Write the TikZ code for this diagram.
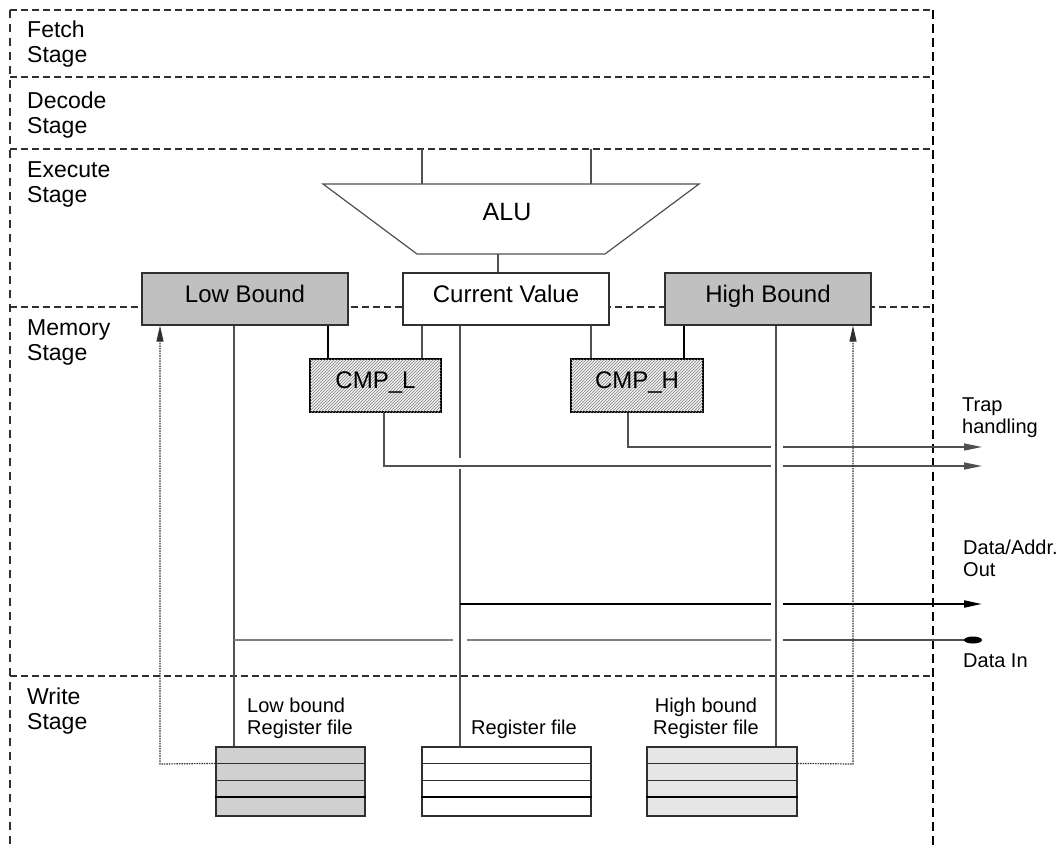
\documentclass[tikz,border=0pt]{standalone}
\usepackage{fontspec}
\setmainfont{Liberation Sans}
\usetikzlibrary{arrows.meta,patterns,calc}
\definecolor{boundgray}{HTML}{C0C0C0}
\definecolor{regdark}{HTML}{D0D0D0}
\definecolor{reglight}{HTML}{E6E6E6}
\definecolor{cmpfill}{HTML}{F2F2F2}
\definecolor{linegray}{HTML}{505050}
\definecolor{edgegray}{HTML}{303030}
\begin{document}
\begin{tikzpicture}[x=1pt,y=-1pt,
  stagedash/.style={draw=edgegray,line width=1.1pt,dash pattern=on 7pt off 4pt},
  borderdash/.style={draw=black,line width=2.2pt,dash pattern=on 9pt off 5pt},
  leftdash/.style={draw=edgegray,line width=1.1pt,dash pattern=on 8pt off 6pt},
  stagelbl/.style={anchor=north west,inner sep=0pt,align=left,font=\fontsize{23}{25}\selectfont},
  boxlbl/.style={font=\fontsize{24}{27}\selectfont,text height=16pt,text depth=10pt},
  bound/.style={boxlbl,draw=edgegray,line width=1.2pt,fill=boundgray,minimum width=206pt,minimum height=52pt,inner sep=0pt},
  valbox/.style={boxlbl,draw=edgegray,line width=1.2pt,fill=white,minimum width=206pt,minimum height=52pt,inner sep=0pt},
  cmpbox/.style={boxlbl,draw=black,line width=1.5pt,fill=cmpfill,postaction={pattern=north east lines,pattern color=gray},minimum height=53pt,inner sep=0pt},
  regbox/.style={draw=edgegray,line width=1.2pt,minimum height=69pt,inner sep=0pt},
  smalllbl/.style={inner sep=0pt,font=\fontsize{20}{22}\selectfont},
  conn/.style={draw=linegray,line width=1.2pt},
  blackconn/.style={draw=black,line width=1.5pt},
  dotarrow/.style={draw=edgegray,line width=1.2pt,dash pattern=on 1.5pt off 1pt,-{Triangle[length=16pt,width=7pt]}},
  outarrow/.style={-{Triangle[length=18pt,width=7pt]}}
]
\useasboundingbox (0,0) rectangle (1063,847);

% stage separators
\draw[stagedash] (10,10) -- (933,10);
\draw[stagedash] (10,77) -- (933,77);
\draw[stagedash] (10,149) -- (933,149);
\draw[stagedash] (10,307) -- (933,307);
\draw[stagedash] (10,676) -- (933,676);
\draw[leftdash] (10,10) -- (10,847);
\draw[borderdash] (933,10) -- (933,847);

% stage labels
\node[stagelbl] (fetch) at (27,21) {Fetch\\Stage};
\node[stagelbl] (decode) at (27,92) {Decode\\Stage};
\node[stagelbl] (execute) at (27,161) {Execute\\Stage};
\node[stagelbl] (memory) at (27,319) {Memory\\Stage};
\node[stagelbl] (write) at (27,688) {Write\\Stage};

% ALU
\draw[draw=linegray,line width=1.2pt,fill=white] (323,184) -- (699,184) -- (605,254) -- (417,254) -- cycle;
\node[font=\fontsize{25}{27}\selectfont,inner sep=0pt] (alu) at (507,212) {ALU};
\coordinate (aluin1) at (422,184);
\coordinate (aluin2) at (591,184);
\coordinate (aluout) at (498,254);
\coordinate (src1) at (422,149);
\coordinate (src2) at (591,149);
\draw[conn] (src1) -- (aluin1);
\draw[conn] (src2) -- (aluin2);

% registers of the execute stage
\node[bound] (lowb) at (245,299) {Low Bound};
\node[valbox] (curv) at (506,299) {Current Value};
\node[bound] (highb) at (768,299) {High Bound};
\draw[conn] (aluout) -- (aluout |- curv.north);

% comparators
\node[cmpbox,minimum width=131pt] (cmpl) at (375.5,385.5) {CMP\_L};
\node[cmpbox,minimum width=132pt] (cmph) at (637,385.5) {CMP\_H};

\draw[blackconn] ($(lowb.south)+(83,0)$) -- ($(cmpl.north)+(-47.5,0)$);
\draw[conn] ($(curv.south)+(-84,0)$) -- ($(cmpl.north)+(46.5,0)$);
\draw[conn] ($(curv.south)+(85,0)$) -- ($(cmph.north)+(-46,0)$);
\draw[blackconn] ($(highb.south)+(-84,0)$) -- ($(cmph.north)+(47,0)$);

% register files
\node[regbox,fill=regdark,minimum width=149pt] (regl) at (290.5,781.5) {};
\node[regbox,fill=white,minimum width=169pt] (regm) at (506.5,781.5) {};
\node[regbox,fill=reglight,minimum width=150pt] (regh) at (722,781.5) {};
\foreach \r in {regl,regm,regh}{
  \draw[edgegray,line width=1.2pt] ($(\r.north west)+(0,17)$) -- ($(\r.north east)+(0,17)$);
  \draw[edgegray,line width=1.2pt] ($(\r.north west)+(0,34)$) -- ($(\r.north east)+(0,34)$);
  \draw[black,line width=2pt] ($(\r.north west)+(0,51)$) -- ($(\r.north east)+(0,51)$);
}
\node[smalllbl,anchor=south west,align=left] (regllbl) at (247,739) {Low bound\\Register file};
\node[smalllbl,anchor=south] (regmlbl) at (524,739) {Register file};
\node[smalllbl,anchor=south,align=center] (reghlbl) at (706,739) {High bound\\Register file};

% vertical buses
\coordinate (cvgapA) at (460,458);
\coordinate (cvgapB) at (460,469);
\draw[conn] ($(lowb.south)+(-11,0)$) -- ($(regl.north)+(-56.5,0)$);
\draw[conn] ($(curv.south)+(-46,0)$) -- (cvgapA);
\draw[conn] (cvgapB) -- ($(regm.north)+(-46.5,0)$);
\draw[conn] ($(highb.south)+(8,0)$) -- ($(regh.north)+(54,0)$);

% trap handling outputs
\coordinate (hgapA) at (771,447);
\coordinate (hgapB) at (783,447);
\coordinate (trapH) at (982,447);
\coordinate (lgapA) at (771,466);
\coordinate (lgapB) at (783,466);
\coordinate (trapL) at (982,466);
\draw[conn] ($(cmph.south)+(-9,0)$) |- (hgapA);
\draw[conn,outarrow] (hgapB) -- (trapH);
\draw[conn] ($(cmpl.south)+(8.5,0)$) |- (lgapA);
\draw[conn,outarrow] (lgapB) -- (trapL);
\node[smalllbl,anchor=south west,align=left] (traplbl) at (962,438) {Trap\\handling};

% data / address out
\coordinate (daStart) at (460,604);
\coordinate (daGapA) at (771,604);
\coordinate (daGapB) at (783,604);
\coordinate (daEnd) at (982,604);
\draw[black,line width=2pt] (daStart) -- (daGapA);
\draw[black,line width=2pt,outarrow] (daGapB) -- (daEnd);
\node[smalllbl,anchor=south west,align=left] (dalbl) at (963,577) {Data/Addr.\\Out};

% data in
\coordinate (diStart) at (234,640);
\coordinate (diGap1A) at (453,640);
\coordinate (diGap1B) at (467,640);
\coordinate (diGap2A) at (771,640);
\coordinate (diGap2B) at (783,640);
\coordinate (diEnd) at (973,640);
\draw[gray,line width=1.5pt] (diStart) -- (diGap1A);
\draw[gray,line width=1.5pt] (diGap1B) -- (diGap2A);
\draw[linegray,line width=1.5pt] (diGap2B) -- (diEnd);
\fill[black] (diEnd) ellipse [x radius=9pt,y radius=3.5pt];
\node[smalllbl,anchor=base west] (dilbl) at (963,667) {Data In};

% feedback from bound register files
\coordinate (fbl) at (160,764);
\coordinate (fbh) at (853,764);
\draw[dotarrow] ($(regl.north west)+(0,17)$) -- (fbl) -- (fbl |- lowb.south);
\draw[dotarrow] ($(regh.north east)+(0,17)$) -- (fbh) -- (fbh |- highb.south);
\end{tikzpicture}
\end{document}
